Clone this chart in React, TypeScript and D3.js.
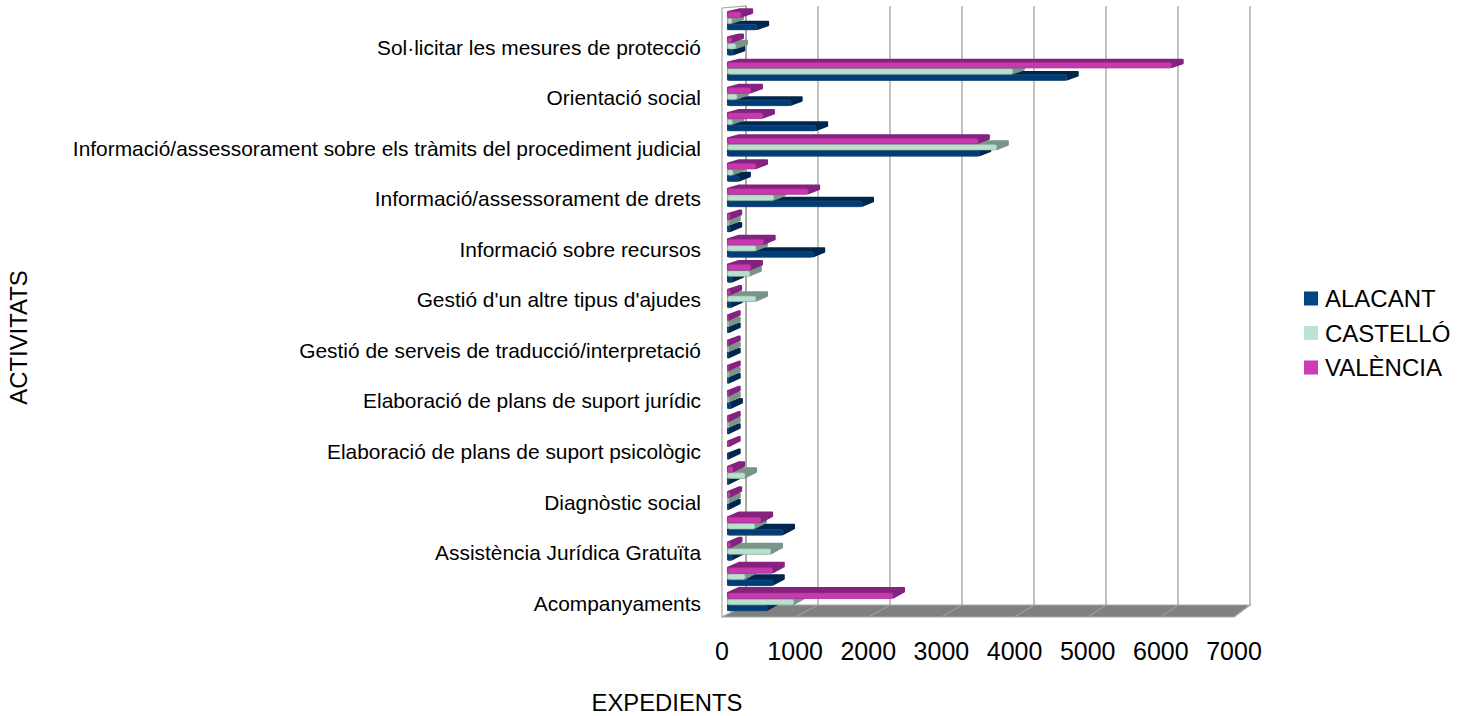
import React from "react";
import * as d3 from "d3";

// every second category has no label in the picture
const CATEGORIES = [
  "", "Sol·licitar les mesures de protecció",
  "", "Orientació social",
  "", "Informació/assessorament sobre els tràmits del procediment judicial",
  "", "Informació/assessorament de drets",
  "", "Informació sobre recursos",
  "", "Gestió d'un altre tipus d'ajudes",
  "", "Gestió de serveis de traducció/interpretació",
  "", "Elaboració de plans de suport jurídic",
  "", "Elaboració de plans de suport psicològic",
  "", "Diagnòstic social",
  "", "Assistència Jurídica Gratuïta",
  "", "Acompanyaments",
];

const ALACANT = [400, 70, 4650, 860, 1210, 3450, 150, 1840, 30, 1170, 55, 40, 10, 10, 10, 40, 10, 10, 10, 10, 755, 55, 615, 535];
const CASTELLO = [55, 110, 3910, 125, 60, 3690, 70, 630, 10, 385, 300, 385, 10, 10, 10, 10, 10, null, 235, 10, 370, 590, 235, 905];
const VALENCIA = [180, 55, 6090, 315, 480, 3430, 385, 1100, 30, 490, 315, 30, 10, 10, 10, 10, 10, 10, 70, 30, 455, 35, 615, 2265];

const TICKS = [0, 1000, 2000, 3000, 4000, 5000, 6000, 7000];

const SERIES = [
  { name: "ALACANT", values: ALACANT, key: "#004586", front: "#003d76", side: "#00264f", edge: "#33597f" },
  { name: "CASTELLÓ", values: CASTELLO, key: "#bde3d2", front: "#b8e0ce", side: "#7a9488", edge: "#8fae9f" },
  { name: "VALÈNCIA", values: VALENCIA, key: "#cc3bb8", front: "#c838ae", side: "#84217f", edge: "#a5368f" },
];

const FONT = "'Liberation Sans', Arial, sans-serif";
const GRID = "#a8a8a8";

const floorTop = 605;
const floorBottom = 617;
const wallTop = 6;

// the three planes of the fake 3D box
const backX = d3.scaleLinear().domain([0, 7000]).range([746, 1250]);
const frontX = d3.scaleLinear().domain([0, 7000]).range([722, 1234]);
const barX = d3.scaleLinear().domain([0, 7000]).range([728, 1238]);

const rowY = d3
  .scaleBand<number>()
  .domain(d3.range(CATEGORIES.length))
  .range([7.9, 614.2]);

const seriesY = d3
  .scalePoint<string>()
  .domain(["VALÈNCIA", "CASTELLÓ", "ALACANT"])
  .range([-6.2, 6.2]);

// top face gets flatter towards the top of the chart
const depthY = d3.scaleLinear().domain([20, 600]).range([3.6, 6]);
const depthX = 12;
const barH = 5.6;

const Bar = ({ value, row, s }: any) => {
  if (value === null) return null;
  const cy = rowY(row)! + rowY.bandwidth() / 2 + seriesY(s.name)!;
  const y = cy - barH / 2 + 0.4;
  const dy = depthY(cy);
  const x0 = barX(0);
  const x1 = barX(value);
  // inset by 1 because the round stroke adds it back
  const hull = [
    [x0, y + barH - 1],
    [x0, y],
    [x0 + depthX - 1, y - dy + 1],
    [x1 + depthX - 1, y - dy + 1],
    [x1 + depthX - 1, y - dy + barH - 1],
    [x1, y + barH - 1],
  ];
  return (
    <g>
      <polygon points={hull.join(" ")} fill={s.side} stroke={s.side} strokeWidth={2} strokeLinejoin="round" />
      <rect
        x={x0 - 0.5}
        y={y}
        width={Math.max(x1 - x0 + 0.5, 0)}
        height={barH}
        rx={2}
        fill={s.front}
        stroke={s.edge}
        strokeWidth={0.6}
      />
    </g>
  );
};

const App = () => {
  const rows = d3.range(CATEGORIES.length).reverse();
  const legendY = d3.scalePoint<string>().domain(SERIES.map((s) => s.name)).range([298.5, 367.5]);
  return (
    <svg
      width={1465}
      height={716}
      style={{ position: "absolute", left: 0, top: 0, background: "#fff" }}
      fontFamily={FONT}
    >
      <defs>
        <filter id="soft" x="-5%" y="-5%" width="110%" height="110%">
          <feGaussianBlur stdDeviation="0.45" />
        </filter>
      </defs>

      {/* left wall and floor */}
      <polygon
        points={`${frontX(0)},8 ${backX(0)},${wallTop} ${backX(0)},${floorTop} ${frontX(0)},${floorBottom}`}
        fill="#fff"
        stroke={GRID}
        strokeWidth={1.2}
      />
      <polygon
        points={`${frontX(0)},${floorBottom} ${frontX(7000)},${floorBottom} ${backX(7000)},${floorTop} ${backX(0)},${floorTop}`}
        fill="#808080"
        stroke={GRID}
        strokeWidth={1.2}
      />

      {TICKS.map((t) => (
        <g key={t}>
          <line x1={backX(t)} x2={backX(t)} y1={wallTop} y2={floorTop} stroke={GRID} strokeWidth={t === 0 ? 2 : 1.4} />
          <line x1={backX(t)} x2={frontX(t)} y1={floorTop} y2={floorBottom} stroke={GRID} strokeWidth={1} />
          <text x={frontX(t)} y={660} textAnchor="middle" fontSize={25} fill="#000">
            {t}
          </text>
        </g>
      ))}

      <g filter="url(#soft)">
        {rows.map((row) => (
          <g key={row}>
            {SERIES.map((s) => (
              <Bar key={s.name} value={s.values[row]} row={row} s={s} />
            ))}
          </g>
        ))}
      </g>

      {CATEGORIES.map((c, i) =>
        c ? (
          <text
            key={i}
            x={701}
            y={rowY(i)! + rowY.bandwidth() / 2 + 9}
            textAnchor="end"
            fontSize={20.9}
            fill="#000"
          >
            {c}
          </text>
        ) : null
      )}

      <text x={667} y={711} textAnchor="middle" fontSize={23.8}>
        EXPEDIENTS
      </text>
      <text transform="translate(27,337.5) rotate(-90)" textAnchor="middle" fontSize={23.9}>
        ACTIVITATS
      </text>

      {SERIES.map((s) => (
        <g key={s.name}>
          <rect x={1304} y={legendY(s.name)! - 7} width={14} height={14} fill={s.key} />
          <text x={1325} y={legendY(s.name)! + 8.5} fontSize={24} fill="#000">
            {s.name}
          </text>
        </g>
      ))}
    </svg>
  );
};

export default App;
